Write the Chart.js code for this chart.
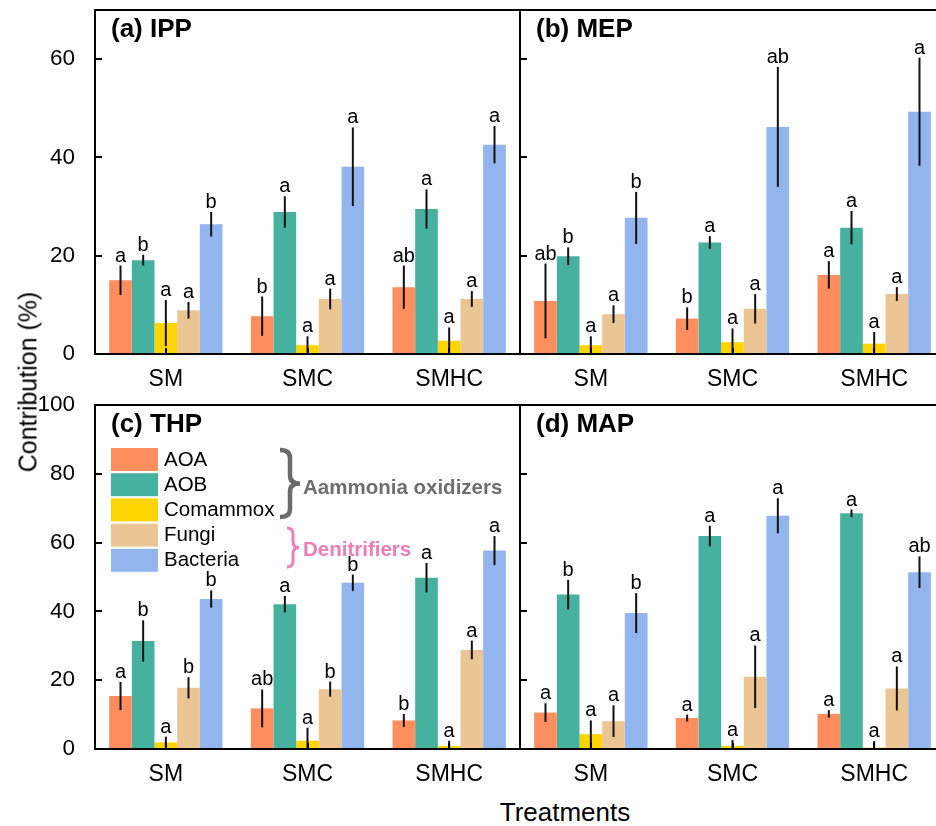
<!DOCTYPE html>
<html>
<head>
<meta charset="utf-8">
<script src="https://cdn.jsdelivr.net/npm/chart.js@4.4.1/dist/chart.umd.min.js"></script>
<style>
  html, body { margin: 0; padding: 0; width: 936px; height: 826px; overflow: hidden; background: #fff; }
  body { position: relative; font-family: 'Liberation Sans', Arial, sans-serif; color: #000; }
  canvas { position: absolute; }
  .axis-title { position: absolute; white-space: nowrap; transform: translate(-50%, -50%); }
</style>
</head>
<body>
<canvas id="chartA" width="522" height="390" style="left:0;top:0"></canvas>
<canvas id="chartB" width="429" height="390" style="left:518px;top:0"></canvas>
<canvas id="chartC" width="522" height="395" style="left:0;top:390px"></canvas>
<canvas id="chartD" width="429" height="395" style="left:518px;top:390px"></canvas>
<div class="axis-title" style="left:565px;top:812px;font-size:26px">Treatments</div>
<div class="axis-title" style="left:28px;top:382px;font-size:25px;transform:translate(-50%,-50%) rotate(-90deg)">Contribution (%)</div>

<script>
// 処理区とグループ
const treatments = ['SM', 'SMC', 'SMHC'];
const groups = ['AOA', 'AOB', 'Comammox', 'Fungi', 'Bacteria'];
const groupColors = ['#FF8E5E', '#47B1A0', '#FFD500', '#ECC594', '#93B5EE'];

// y軸の目盛り
const topTicks = [0, 20, 40, 60];
const bottomTicks = [0, 20, 40, 60, 80, 100];

// (a) IPP  行 = AOA, AOB, Comammox, Fungi, Bacteria / 列 = SM, SMC, SMHC
const ippMean = [[15.0, 7.7, 13.6], [19.1, 28.9, 29.5], [6.3, 1.8, 2.7], [8.9, 11.2, 11.2], [26.4, 38.1, 42.6]];
const ippErr  = [[3.0, 4.0, 4.4], [1.1, 3.2, 4.0], [4.7, 1.8, 2.7], [1.7, 2.1, 1.6], [2.5, 8.0, 3.8]];
const ippSig  = [['a', 'b', 'ab'], ['b', 'a', 'a'], ['a', 'a', 'a'], ['a', 'a', 'a'], ['b', 'a', 'a']];

// (b) MEP
const mepMean = [[10.8, 7.2, 16.1], [19.9, 22.7, 25.7], [1.8, 2.4, 2.1], [8.1, 9.2, 12.2], [27.7, 46.2, 49.3]];
const mepErr  = [[7.6, 2.3, 2.8], [1.8, 1.3, 3.4], [1.8, 2.8, 2.4], [1.8, 3.0, 1.4], [5.3, 12.2, 11.0]];
const mepSig  = [['ab', 'b', 'a'], ['b', 'a', 'a'], ['a', 'a', 'a'], ['a', 'a', 'a'], ['b', 'ab', 'a']];

// (c) THP
const thpMean = [[15.4, 11.8, 8.3], [31.4, 42.1, 49.8], [1.9, 2.4, 0.9], [17.8, 17.4, 28.8], [43.6, 48.3, 57.7]];
const thpErr  = [[4.1, 5.5, 1.9], [6.0, 2.4, 4.3], [1.7, 3.8, 1.5], [3.1, 2.2, 2.7], [2.5, 2.4, 4.2]];
const thpSig  = [['a', 'ab', 'b'], ['b', 'a', 'a'], ['a', 'a', 'a'], ['b', 'b', 'a'], ['b', 'b', 'a']];

// (d) MAP
const mapMean = [[10.6, 9.0, 10.2], [44.9, 61.9, 68.5], [4.3, 0.9, 0.4], [8.1, 21.0, 17.6], [39.5, 67.8, 51.4]];
const mapErr  = [[2.7, 1.0, 1.1], [4.3, 3.0, 1.1], [4.0, 1.7, 1.9], [4.6, 9.1, 6.4], [5.8, 5.1, 4.6]];
const mapSig  = [['a', 'a', 'a'], ['b', 'a', 'a'], ['a', 'a', 'a'], ['a', 'a', 'a'], ['b', 'a', 'ab']];

const FONT = "'Liberation Sans', Arial, sans-serif";
Chart.defaults.font.family = FONT;
Chart.defaults.color = '#000';

// 中括弧 } を描く
function drawBrace(ctx, x, y1, y2, w, color, lw) {
    const mid = (y1 + y2) / 2;
    const r = Math.min(w / 2, 8);
    const sx = x + w / 2;
    ctx.beginPath();
    ctx.moveTo(x, y1);
    ctx.quadraticCurveTo(sx, y1, sx, y1 + r);
    ctx.lineTo(sx, mid - r);
    ctx.quadraticCurveTo(sx, mid, x + w, mid);
    ctx.quadraticCurveTo(sx, mid, sx, mid + r);
    ctx.lineTo(sx, y2 - r);
    ctx.quadraticCurveTo(sx, y2, x, y2);
    ctx.strokeStyle = color;
    ctx.lineWidth = lw;
    ctx.lineCap = 'butt';
    ctx.stroke();
}

// エラーバー・有意差記号・枠・タイトル・凡例
const panelDecor = {
    id: 'panelDecor',
    afterDatasetsDraw(chart, args, opts) {
        const ctx = chart.ctx;
        const area = chart.chartArea;
        const yScale = chart.scales.y;
        const xScale = chart.scales.x;

        // エラーバー
        ctx.save();
        ctx.beginPath();
        ctx.rect(area.left, area.top, area.right - area.left, area.bottom - area.top);
        ctx.clip();
        ctx.strokeStyle = '#111';
        ctx.lineWidth = 2;
        chart.data.datasets.forEach((ds, di) => {
            chart.getDatasetMeta(di).data.forEach((bar, i) => {
                const v = ds.data[i], e = ds.errors[i];
                ctx.beginPath();
                ctx.moveTo(bar.x, yScale.getPixelForValue(v + e));
                ctx.lineTo(bar.x, yScale.getPixelForValue(v - e));
                ctx.stroke();
            });
        });
        ctx.restore();

        // 有意差の文字
        ctx.save();
        ctx.fillStyle = '#000';
        ctx.font = '20px ' + FONT;
        ctx.textAlign = 'center';
        ctx.textBaseline = 'alphabetic';
        chart.data.datasets.forEach((ds, di) => {
            chart.getDatasetMeta(di).data.forEach((bar, i) => {
                const top = yScale.getPixelForValue(ds.data[i] + ds.errors[i]);
                ctx.fillText(ds.sig[i], bar.x, top - 4);
            });
        });
        ctx.restore();

        // 枠と内向きの目盛り
        ctx.save();
        ctx.strokeStyle = '#000';
        ctx.lineWidth = 2;
        ctx.strokeRect(area.left, area.top, area.right - area.left, area.bottom - area.top);
        ctx.beginPath();
        opts.ticks.forEach(v => {
            const y = Math.round(yScale.getPixelForValue(v));
            ctx.moveTo(area.left, y);
            ctx.lineTo(area.left + 7, y);
        });
        treatments.forEach((t, i) => {
            const x = Math.round(xScale.getPixelForValue(i));
            ctx.moveTo(x, area.bottom);
            ctx.lineTo(x, area.bottom - 6);
        });
        ctx.stroke();

        // パネルタイトル
        ctx.fillStyle = '#000';
        ctx.font = 'bold 26px ' + FONT;
        ctx.textAlign = 'left';
        ctx.textBaseline = 'middle';
        ctx.fillText(opts.title, area.left + 16, area.top + 20);

        // 凡例 (c のみ)
        if (opts.legend) {
            const lx = area.left + 16, ly = area.top + 43;
            ctx.font = '20.5px ' + FONT;
            groups.forEach((g, i) => {
                const y = ly + i * 25.2;
                ctx.fillStyle = groupColors[i];
                ctx.fillRect(lx, y, 47, 23);
                ctx.fillStyle = '#000';
                ctx.fillText(g, lx + 53, y + 12);
            });
            drawBrace(ctx, area.left + 185, area.top + 45, area.top + 112, 20, '#6B6B6B', 4.5);
            drawBrace(ctx, area.left + 192, area.top + 123, area.top + 162, 12, '#EC82B8', 3);
            ctx.font = 'bold 20.5px ' + FONT;
            ctx.fillStyle = '#6E6E6E';
            ctx.fillText('Aammonia oxidizers', area.left + 208, area.top + 83);
            ctx.fillStyle = '#EC7DB6';
            ctx.fillText('Denitrifiers', area.left + 208, area.top + 145);
        }
        ctx.restore();
    }
};

function makePanel(id, title, means, errs, sigs, yMax, ticks, showY, padding, legend) {
    const datasets = groups.map((g, i) => ({
        label: g,
        data: means[i],
        errors: errs[i],
        sig: sigs[i],
        backgroundColor: groupColors[i],
        borderWidth: 0,
        barPercentage: 1.0,
        categoryPercentage: 0.8
    }));
    return new Chart(document.getElementById(id), {
        type: 'bar',
        data: { labels: treatments, datasets: datasets },
        options: {
            responsive: false,
            animation: false,
            layout: { padding: padding },
            plugins: {
                legend: { display: false },
                tooltip: { enabled: false },
                panelDecor: { title: title, legend: legend, ticks: ticks }
            },
            scales: {
                x: {
                    grid: { display: false },
                    border: { display: false },
                    ticks: { font: { size: 23 }, color: '#000', padding: 4, maxRotation: 0 },
                    afterFit(s) { s.height = 36; s.paddingLeft = 0; s.paddingRight = 0; }
                },
                y: {
                    display: showY,
                    min: 0,
                    max: yMax,
                    grid: { display: false },
                    border: { display: false },
                    ticks: { font: { size: 22.5 }, color: '#000', padding: 12 },
                    afterBuildTicks(s) { s.ticks = ticks.map(v => ({ value: v })); },
                    afterFit(s) { s.width = showY ? 95 : 0; s.paddingTop = 0; s.paddingBottom = 0; }
                }
            }
        },
        plugins: [panelDecor]
    });
}

makePanel('chartA', '(a) IPP', ippMean, ippErr, ippSig, 70, topTicks, true, { left: 0, top: 10, right: 2, bottom: 0 }, false);
makePanel('chartB', '(b) MEP', mepMean, mepErr, mepSig, 70, topTicks, false, { left: 2, top: 10, right: 2, bottom: 0 }, false);
makePanel('chartC', '(c) THP', thpMean, thpErr, thpSig, 100, bottomTicks, true, { left: 0, top: 15, right: 2, bottom: 0 }, true);
makePanel('chartD', '(d) MAP', mapMean, mapErr, mapSig, 100, bottomTicks, false, { left: 2, top: 15, right: 2, bottom: 0 }, false);
</script>
</body>
</html>
